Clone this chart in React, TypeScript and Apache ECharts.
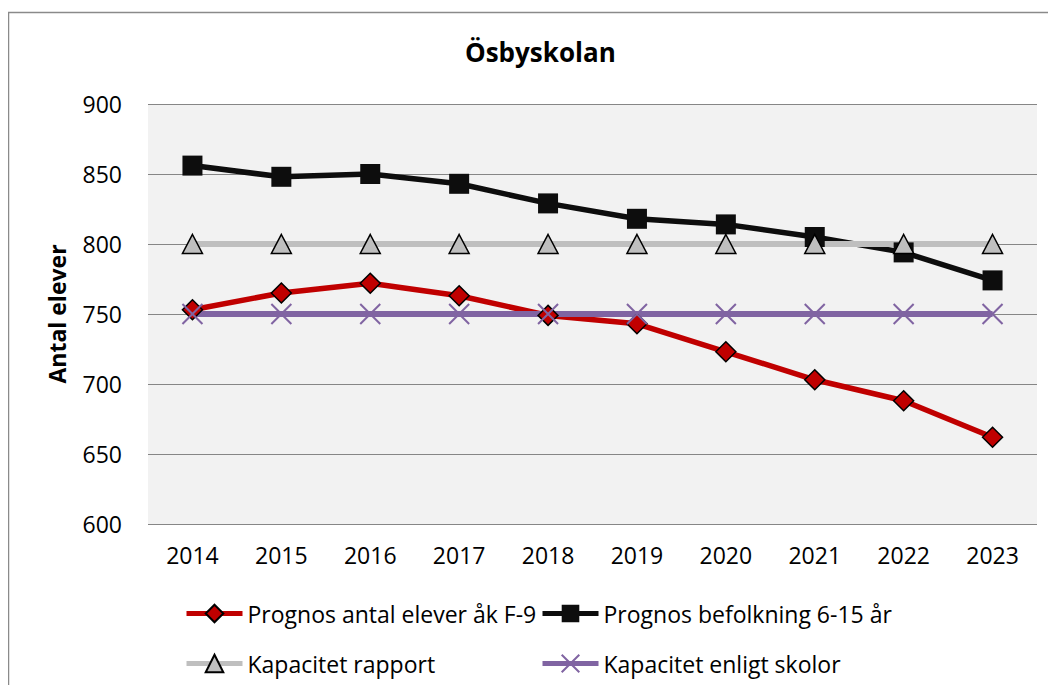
import React, { useEffect, useRef } from "react";
import * as echarts from "echarts";

const years = ["2014", "2015", "2016", "2017", "2018", "2019", "2020", "2021", "2022", "2023"];
const prognosElever = [753, 765, 772, 763, 749, 743, 723, 703, 688, 662];
const prognosBefolkning = [856, 848, 850, 843, 829, 818, 814, 805, 794, 774];
const kapacitetRapport = [800, 800, 800, 800, 800, 800, 800, 800, 800, 800];
const kapacitetSkolor = [750, 750, 750, 750, 750, 750, 750, 750, 750, 750];
const seriesNames = [
  "Prognos antal elever åk F-9",
  "Prognos befolkning 6-15 år",
  "Kapacitet rapport",
  "Kapacitet enligt skolor",
];

const FONT = "'Open Sans', sans-serif";

export default function App() {
  const ref = useRef<HTMLDivElement>(null);
  useEffect(() => {
    if (!ref.current) return;
    const chart = echarts.init(ref.current, null, { renderer: "svg" });
    const legendText = { fontFamily: FONT, fontSize: 23, color: "#000" };
    const legendCommon = {
      orient: "vertical",
      top: 594,
      padding: 0,
      itemWidth: 56,
      itemHeight: 22,
      itemGap: 27,
      textStyle: legendText,
      lineStyle: { width: 5 },
    };
    chart.setOption({
      animation: false,
      backgroundColor: "#fff",
      title: {
        text: "Ösbyskolan",
        left: 452,
        top: 26,
        textStyle: { fontFamily: FONT, fontSize: 26, fontWeight: "bold", color: "#000" },
      },
      graphic: [
        {
          type: "rect",
          shape: { x: 0.5, y: 4.5, width: 1200, height: 900 },
          style: { fill: "none", stroke: "#8a8a8a", lineWidth: 1.5 },
          silent: true,
        },
      ],
      legend: [
        { ...legendCommon, data: [seriesNames[0], seriesNames[2]], left: 176 },
        { ...legendCommon, data: [seriesNames[1], seriesNames[3]], left: 532 },
      ],
      grid: { left: 140, top: 96, width: 889, height: 420, backgroundColor: "#f2f2f2", show: true, borderWidth: 0 },
      xAxis: {
        type: "category",
        data: years,
        boundaryGap: true,
        axisLine: { show: false },
        axisTick: { show: false },
        axisLabel: { fontFamily: FONT, fontSize: 23, color: "#000", margin: 19 },
      },
      yAxis: {
        type: "value",
        min: 600,
        max: 900,
        interval: 50,
        name: "Antal elever",
        nameLocation: "middle",
        nameGap: 80,
        nameTextStyle: { fontFamily: FONT, fontSize: 23, fontWeight: "bold", color: "#000" },
        axisLine: { show: false },
        axisTick: { show: false },
        axisLabel: { fontFamily: FONT, fontSize: 23, color: "#000", margin: 26 },
        splitLine: { lineStyle: { color: "#868686", width: 1 } },
      },
      series: [
        {
          name: seriesNames[0],
          type: "line",
          data: prognosElever,
          symbol: "diamond",
          symbolSize: 20,
          lineStyle: { color: "#c00000", width: 5.5 },
          itemStyle: { color: "#c00000", borderColor: "#000", borderWidth: 1.5 },
        },
        {
          name: seriesNames[1],
          type: "line",
          data: prognosBefolkning,
          symbol: "rect",
          symbolSize: 20,
          lineStyle: { color: "#0d0d0d", width: 5.5 },
          itemStyle: { color: "#0d0d0d", borderColor: "#0d0d0d", borderWidth: 0 },
        },
        {
          name: seriesNames[2],
          type: "line",
          data: kapacitetRapport,
          symbol: "triangle",
          symbolSize: [20, 19],
          lineStyle: { color: "#bfbfbf", width: 6 },
          itemStyle: { color: "#bfbfbf", borderColor: "#000", borderWidth: 1.5 },
        },
        {
          name: seriesNames[3],
          type: "line",
          data: kapacitetSkolor,
          symbol: "path://M0,0L10,10M10,0L0,10",
          symbolSize: 20,
          lineStyle: { color: "#8064a2", width: 6 },
          itemStyle: { color: "none", borderColor: "#8064a2", borderWidth: 2 },
        },
      ],
    });
    return () => chart.dispose();
  }, []);
  return <div ref={ref} style={{ width: 1040, height: 677 }} />;
}
